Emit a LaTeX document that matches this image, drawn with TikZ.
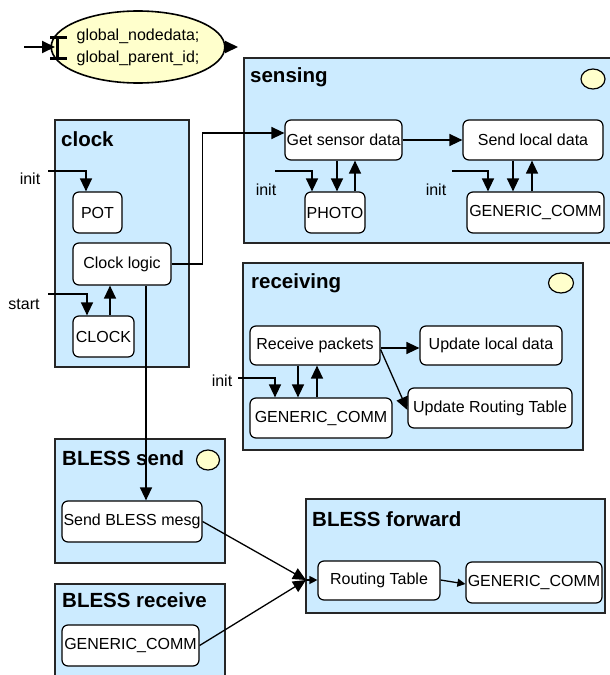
\documentclass[tikz,border=0pt]{standalone}
\usepackage{fontspec}
\setmainfont{Liberation Sans}
\usetikzlibrary{arrows.meta,shapes.geometric}
\definecolor{modblue}{RGB}{204,235,255}
\definecolor{notecream}{RGB}{255,255,204}
\tikzset{
	module/.style={rectangle, draw=black!85, line width=1.7pt, fill=modblue, inner sep=0pt},
	modtitle/.style={anchor=base west, inner sep=0pt, font=\fontsize{20.5}{22}\selectfont\bfseries},
	comp/.style={rectangle, draw, line width=1.2pt, fill=white, rounded corners=6pt, inner sep=0.5pt, font=\fontsize{16}{18}\selectfont},
	lbl/.style={inner sep=0pt, font=\fontsize{16}{18}\selectfont},
	timer/.style={ellipse, draw, line width=1.2pt, fill=notecream, minimum width=24pt, minimum height=20pt, inner sep=0pt},
	wire/.style={line width=1.3pt},
	wirearrow/.style={line width=1.3pt, -{Triangle[length=13pt,width=12pt]}}
}

\begin{document}
\begin{tikzpicture}[x=1pt, y=-1pt]
			%%%%% START %%%%%
			\useasboundingbox (0,0) rectangle (610,675);
			
			% global variables
			\node[ellipse, draw, line width=1.6pt, fill=notecream, minimum width=142pt, minimum height=72pt, inner sep=0pt, align=center, font=\fontsize{16}{22}\selectfont] (gvars) at (138,47) {global\_nodedata;\\global\_parent\_id;};
			\draw[line width=3pt] (50,37) -- (67,37) (57,37) -- (57,58) (50,58) -- (67,58);
			\coordinate (gin) at (24,47);
			\coordinate (gbar) at (55,47);
			\coordinate (gout) at (238,47);
			\draw[wirearrow, line width=2pt] (gin) -- (gbar);
			\draw[wirearrow, line width=2pt] (gvars.east) -- (gout);
			
			% modules
			\node[module, minimum width=134pt, minimum height=247pt] (clock) at (122,243.5) {};
			\node[module, minimum width=376pt, minimum height=185pt] (sensing) at (432,150.5) {};
			\node[module, minimum width=340pt, minimum height=187pt] (receiving) at (413,356.5) {};
			\node[module, minimum width=170pt, minimum height=124pt] (blesssend) at (140,501) {};
			\node[module, minimum width=170pt, minimum height=110pt] (blessrecv) at (140,639) {};
			\node[module, minimum width=299pt, minimum height=114pt] (blessfwd) at (455.5,556) {};
			
			\node[modtitle] (clocktitle) at (61,146) {clock};
			\node[modtitle] (sensingtitle) at (250,82) {sensing};
			\node[modtitle] (receivingtitle) at (251,288) {receiving};
			\node[modtitle] (blesssendtitle) at (62,465) {BLESS send};
			\node[modtitle] (blessrecvtitle) at (62,607) {BLESS receive};
			\node[modtitle] (blessfwdtitle) at (312,526) {BLESS forward};
			
			\node[timer] (sensingtimer) at (593,79) {};
			\node[timer, minimum width=25pt] (receivingtimer) at (561,283) {};
			\node[timer, minimum width=23pt] (blesssendtimer) at (208,460) {};
			
			% components
			\node[comp, minimum width=49pt, minimum height=41pt] (pot) at (97.5,212.5) {POT};
			\node[comp, minimum width=98pt, minimum height=42pt] (clocklogic) at (122,264) {Clock logic};
			\node[comp, minimum width=61pt, minimum height=41pt] (clk) at (103.5,336.5) {CLOCK};
			
			\node[comp, minimum width=117pt, minimum height=40pt] (getsensor) at (343.5,140) {Get sensor data};
			\node[comp, minimum width=140pt, minimum height=40pt] (sendlocal) at (533,140) {Send local data};
			\node[comp, minimum width=60pt, minimum height=41pt] (photo) at (335,212.5) {PHOTO};
			\node[comp, minimum width=137pt, minimum height=41pt] (gcsense) at (535.5,212.5) {GENERIC\_COMM};
			
			\node[comp, minimum width=130pt, minimum height=39pt] (recvpk) at (315,345.5) {Receive packets};
			\node[comp, minimum width=142pt, minimum height=39pt] (updlocal) at (491,345.5) {Update local data};
			\node[comp, minimum width=164pt, minimum height=40pt] (updroute) at (490,408) {Update Routing Table};
			\node[comp, minimum width=142pt, minimum height=40pt] (gcrecv) at (321,418) {GENERIC\_COMM};
			
			\node[comp, minimum width=140pt, minimum height=41pt] (sendbless) at (132,521.5) {Send BLESS mesg};
			\node[comp, minimum width=137pt, minimum height=41pt] (gcbless) at (130.5,645.5) {GENERIC\_COMM};
			\node[comp, minimum width=122pt, minimum height=39pt] (routing) at (379,580.5) {Routing Table};
			\node[comp, minimum width=136pt, minimum height=41pt] (gcfwd) at (534,582.5) {GENERIC\_COMM};
			
			% init and start inputs
			\node[lbl] (initclk) at (30,179) {init};
			\node[lbl] (startclk) at (24,304) {start};
			\node[lbl] (initsense) at (266,190) {init};
			\node[lbl] (initsend) at (436,190) {init};
			\node[lbl] (initrecv) at (222,381) {init};
			\coordinate (initclkend) at (48,171);
			\coordinate (startclkend) at (48,294);
			\coordinate (initsenseend) at (275,171);
			\coordinate (initsendend) at (452,171);
			\coordinate (initrecvend) at (238,378);
			\coordinate (fwdport) at (306,580);
			
			% clock
			\draw[wirearrow] (initclkend) -| ([xshift=-11.5pt]pot.north);
			\draw[wirearrow] (startclkend) -| ([xshift=-16.5pt]clk.north);
			\draw[wirearrow] ([xshift=6.5pt]clk.north) -- ([xshift=-12pt]clocklogic.south);
			\draw[wirearrow] (clocklogic.east) -- ++(31,0) |- ([yshift=7pt]getsensor.west);
			\draw[wirearrow] ([xshift=24pt]clocklogic.south) -- ([xshift=14pt]sendbless.north);
			
			% sensing
			\draw[wirearrow] (getsensor.east) -- (sendlocal.west);
			\draw[wirearrow] ([xshift=-6.5pt]getsensor.south) -- ([xshift=2pt]photo.north);
			\draw[wirearrow] ([xshift=20pt]photo.north) -- ([xshift=11.5pt]getsensor.south);
			\draw[wirearrow] (initsenseend) -| ([xshift=-23pt]photo.north);
			\draw[wirearrow] ([xshift=-20pt]sendlocal.south) -- ([xshift=-22.5pt]gcsense.north);
			\draw[wirearrow] ([xshift=-3.5pt]gcsense.north) -- ([xshift=-1pt]sendlocal.south);
			\draw[wirearrow] (initsendend) -| ([xshift=-47.5pt]gcsense.north);
			
			% receiving
			\draw[wirearrow] ([yshift=-2.5pt]recvpk.east) -- ([yshift=-2.5pt]updlocal.west);
			\draw[wirearrow] ([yshift=-4pt]recvpk.east) -- ([yshift=-2pt]updroute.west);
			\draw[wirearrow] ([xshift=-17pt]recvpk.south) -- ([xshift=-23pt]gcrecv.north);
			\draw[wirearrow] ([xshift=-4pt]gcrecv.north) -- ([xshift=2pt]recvpk.south);
			\draw[wirearrow] (initrecvend) -| ([xshift=-46pt]gcrecv.north);
			
			% BLESS
			\draw[wirearrow] (sendbless.east) -- (fwdport);
			\draw[wirearrow] (gcbless.east) -- (fwdport);
			\draw[line width=1.3pt, -{Triangle[length=8pt,width=8pt]}] (fwdport) -- ([yshift=0.5pt]routing.west);
			\draw[line width=1.3pt, -{Triangle[length=8pt,width=8pt]}] ([yshift=0.5pt]routing.east) -- ([yshift=-1.5pt]gcfwd.west);
			
			%%%%% END %%%%%
\end{tikzpicture}
\end{document}
